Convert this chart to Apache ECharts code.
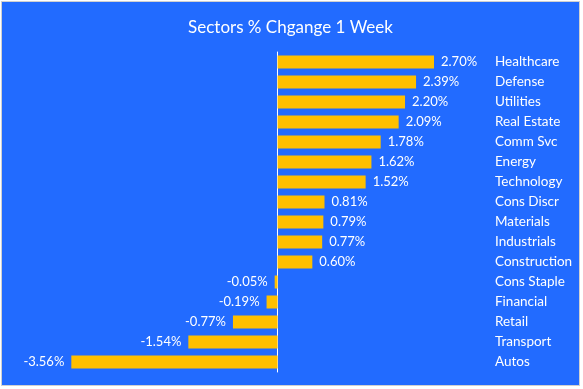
<!DOCTYPE html>
<html><head><meta charset="utf-8">
<script src="https://cdn.jsdelivr.net/npm/echarts@6/dist/echarts.min.js"></script>
<style>
html,body{margin:0;padding:0;background:#fff;width:583px;height:389px;overflow:hidden}
#wrap{position:absolute;left:1px;top:1px;width:577px;height:383px;border:1px solid #d0d0d0;}
#c{width:577px;height:383px;}
</style></head><body>
<div id="wrap"><div id="c"></div></div>
<script>
const categories = ["Healthcare","Defense","Utilities","Real Estate","Comm Svc","Energy","Technology","Cons Discr","Materials","Industrials","Construction","Cons Staple","Financial","Retail","Transport","Autos"];
const values = [2.70,2.39,2.20,2.09,1.78,1.62,1.52,0.81,0.79,0.77,0.60,-0.05,-0.19,-0.77,-1.54,-3.56];
const titleText = "Sectors % Chgange 1 Week";
const font = "Lato, 'Open Sans', sans-serif";

const chart = echarts.init(document.getElementById('c'), null, {renderer:'canvas'});
chart.setOption({
  backgroundColor:'#226BFF',
  animation:false,
  title:{text:titleText,left:'center',top:12,textStyle:{color:'#fff',fontSize:17,fontWeight:'normal',fontFamily:font}},
  grid:{left:67,top:50,width:365,height:320,containLabel:false},
  xAxis:{type:'value',min:-3.6,max:2.7,show:false},
  yAxis:[
    {type:'category',data:categories,inverse:true,axisLine:{show:true,onZero:true,lineStyle:{color:'#ffffff',width:1}},axisTick:{show:false},axisLabel:{show:false},splitLine:{show:false}},
    {type:'category',data:categories,inverse:true,position:'right',offset:53,axisLine:{show:false},axisTick:{show:false},
     axisLabel:{color:'#fff',fontSize:13.5,fontFamily:font,align:'left',margin:8},splitLine:{show:false}}
  ],
  series:[{
    type:'bar',yAxisIndex:0,barWidth:13,
    data:values.map(v=>({value:v,label:{position:v>=0?'right':'left'}})),
    itemStyle:{color:'#FFC000'},
    label:{show:true,color:'#fff',fontSize:13,fontFamily:font,distance:7,formatter:p=>p.value.toFixed(2)+'%'}
  }]
});
</script>
</body></html>
